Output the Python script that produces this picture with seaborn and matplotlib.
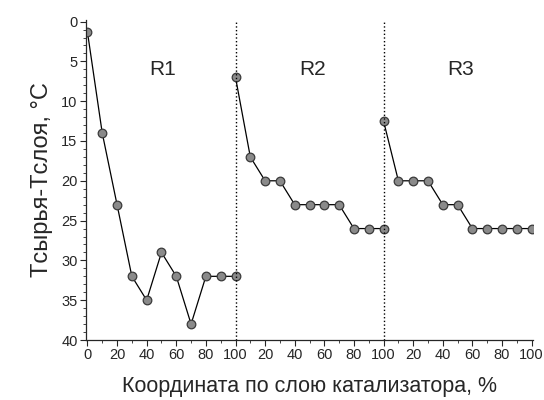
import numpy as np
import pandas as pd
import seaborn as sns
import matplotlib
matplotlib.use("Agg")
import matplotlib.pyplot as plt
from matplotlib.ticker import MultipleLocator, FixedLocator, FixedFormatter

# position inside each reactor layer, %
coord = [0, 10, 20, 30, 40, 50, 60, 70, 80, 90, 100]
# temperature difference T_feed - T_layer, deg C
r1 = [1.3, 14, 23, 32, 35, 29, 32, 38, 32, 32, 32]
r2 = [7, 17, 20, 20, 23, 23, 23, 23, 26, 26, 26]
r3 = [12.5, 20, 20, 20, 23, 23, 26, 26, 26, 26, 26]
regions = ["R1", "R2", "R3"]

tick_pos = [0, 20, 40, 60, 80, 100, 120, 140, 160, 180, 200, 220, 240, 260, 280, 300]
tick_labels = ["0", "20", "40", "60", "80", "100", "20", "40", "60", "80", "100",
               "20", "40", "60", "80", "100"]

# one long table, each region shifted by 100 along the x axis
frames = []
for i, (name, vals) in enumerate(zip(regions, [r1, r2, r3])):
    frames.append(pd.DataFrame({"x": np.array(coord) + 100 * i, "T": vals, "region": name}))
df = pd.concat(frames, ignore_index=True)

sns.set_style("ticks")
plt.rcParams["font.family"] = ["Liberation Sans", "DejaVu Sans"]

fig = plt.figure(figsize=(5.44, 4.0), dpi=100)
ax = fig.add_axes([0.158, 0.15, 0.822, 0.80])

for name in regions:
    sns.lineplot(data=df[df["region"] == name], x="x", y="T", ax=ax,
                 color="black", linewidth=0.9, marker="o", markersize=6.2,
                 markerfacecolor="#8a8a8a", markeredgecolor="#3a3a3a",
                 markeredgewidth=0.9, estimator=None)

for xv in (100, 200):
    ax.axvline(xv, color="black", linestyle=":", linewidth=1.0)

for i, name in enumerate(regions):
    ax.text(51 + 100 * i + (1 if i else 0), 6, name, ha="center", va="center", fontsize=15)

ax.set_xlim(-1, 301)
ax.set_ylim(40, -0.2)
ax.xaxis.set_major_locator(FixedLocator(tick_pos))
ax.xaxis.set_major_formatter(FixedFormatter(tick_labels))
ax.xaxis.set_minor_locator(MultipleLocator(10))
ax.yaxis.set_major_locator(MultipleLocator(5))
ax.yaxis.set_minor_locator(MultipleLocator(1))
ax.tick_params(axis="both", which="major", labelsize=10.5, length=4, width=0.8, direction="out", pad=2)
ax.tick_params(axis="both", which="minor", length=2, width=0.6, direction="out")

ax.set_xlabel("Координата по слою катализатора, %", fontsize=15.5, labelpad=10)
ax.set_ylabel("Tсырья-Tслоя, °C", fontsize=17, labelpad=6)
sns.despine(ax=ax)
for s in ("left", "bottom"):
    ax.spines[s].set_linewidth(0.9)

fig.savefig("out.png", dpi=100)
